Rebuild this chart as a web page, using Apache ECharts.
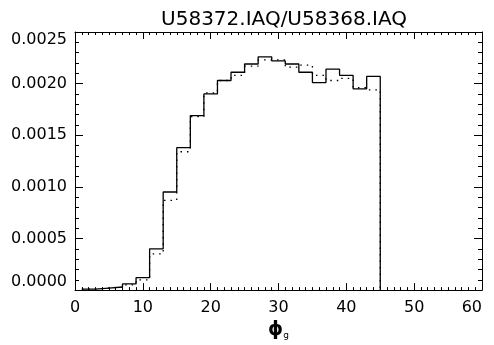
<!DOCTYPE html>
<html>
<head>
<meta charset="utf-8">
<script src="https://cdn.jsdelivr.net/npm/echarts@6/dist/echarts.min.js"></script>
<style>html,body{margin:0;padding:0;background:#fff;}#c{width:494px;height:345px;}</style>
</head>
<body>
<div id="c"></div>
<script>
// Data
var titleText = 'U58372.IAQ/U58368.IAQ';
var binEdges = [1,3,5,7,9,11,13,15,17,19,21,23,25,27,29,31,33,35,37,39,41,43,45];
var solidValues = [0.00001,0.00002,0.00003,0.00006,0.00012,0.00040,0.00095,0.00138,0.00169,0.00190,0.00203,0.00211,0.00219,0.00226,0.00222,0.00219,0.00211,0.00201,0.00214,0.00208,0.00195,0.00207];
var dottedValues = [0.00001,0.00002,0.00003,0.00005,0.00010,0.00035,0.00087,0.00134,0.00168,0.00191,0.00203,0.00208,0.00217,0.00223,0.00223,0.00216,0.00218,0.00208,0.00203,0.00205,0.00196,0.00194];
var xTicks = [0,10,20,30,40,50,60];
var yTicks = [0.0000,0.0005,0.0010,0.0015,0.0020,0.0025];

function stepData(vals){
  var d = [];
  for (var i = 0; i < vals.length; i++) d.push([binEdges[i], vals[i]]);
  d.push([binEdges[binEdges.length-1], vals[vals.length-1]]);
  d.push([binEdges[binEdges.length-1], 0]);
  return d;
}

var FONT = 'DejaVu Sans';
var chart = echarts.init(document.getElementById('c'), null, {renderer:'canvas'});
var baseX = {
  type:'value', min:xTicks[0], max:xTicks[xTicks.length-1], interval:10,
  axisLine:{show:true, onZero:false, lineStyle:{color:'#000', width:1}},
  axisTick:{show:true, inside:true, length:7, lineStyle:{color:'#000'}},
  minorTick:{show:true, splitNumber:10, length:3, lineStyle:{color:'#000'}},
  splitLine:{show:false}
};
var baseY = {
  type:'value', min:yTicks[0], max:yTicks[yTicks.length-1], interval:0.0005,
  axisLine:{show:true, onZero:false, lineStyle:{color:'#000', width:1}},
  axisTick:{show:true, inside:true, length:8, lineStyle:{color:'#000'}},
  minorTick:{show:true, splitNumber:5, length:4, lineStyle:{color:'#000'}},
  splitLine:{show:false}
};
var option = {
  backgroundColor:'#fff',
  animation:false,
  title:{
    text:titleText, left:279, top:5, textAlign:'center',
    textStyle:{fontFamily:FONT, fontSize:20, fontWeight:'normal', color:'#000'}
  },
  grid:{left:75, right:12, top:32, bottom:51, containLabel:false},
  xAxis:[
    Object.assign({}, baseX, {
      position:'bottom',
      axisLabel:{show:true, margin:10, color:'#000', fontFamily:FONT, fontSize:16, alignMaxLabel:'right',
        formatter:function(v){return String(v);}},
      name:'{phi|ϕ}{sub|g}', nameLocation:'middle', nameGap:30,
      nameTextStyle:{rich:{
        phi:{fontFamily:FONT, fontSize:19, fontWeight:'bold', color:'#000'},
        sub:{fontFamily:FONT, fontSize:9, color:'#000', padding:[10,0,0,0]}
      }}
    }),
    Object.assign({}, baseX, {position:'top', axisLabel:{show:false}})
  ],
  yAxis:[
    Object.assign({}, baseY, {
      position:'left',
      axisLabel:{show:true, margin:8, color:'#000', fontFamily:FONT, fontSize:16,
        verticalAlignMaxLabel:'top', verticalAlignMinLabel:'bottom',
        formatter:function(v){return v.toFixed(4);}}
    }),
    Object.assign({}, baseY, {position:'right', axisLabel:{show:false}})
  ],
  series:[
    {type:'line', xAxisIndex:0, yAxisIndex:0, step:'end', showSymbol:false, symbol:'none',
     data:stepData(dottedValues), lineStyle:{color:'#000', width:1.3, type:[1.5,5]}, z:2},
    {type:'line', xAxisIndex:0, yAxisIndex:0, step:'end', showSymbol:false, symbol:'none',
     data:stepData(solidValues), lineStyle:{color:'#000', width:1.3}, z:3}
  ]
};
chart.setOption(option);
</script>
</body>
</html>
